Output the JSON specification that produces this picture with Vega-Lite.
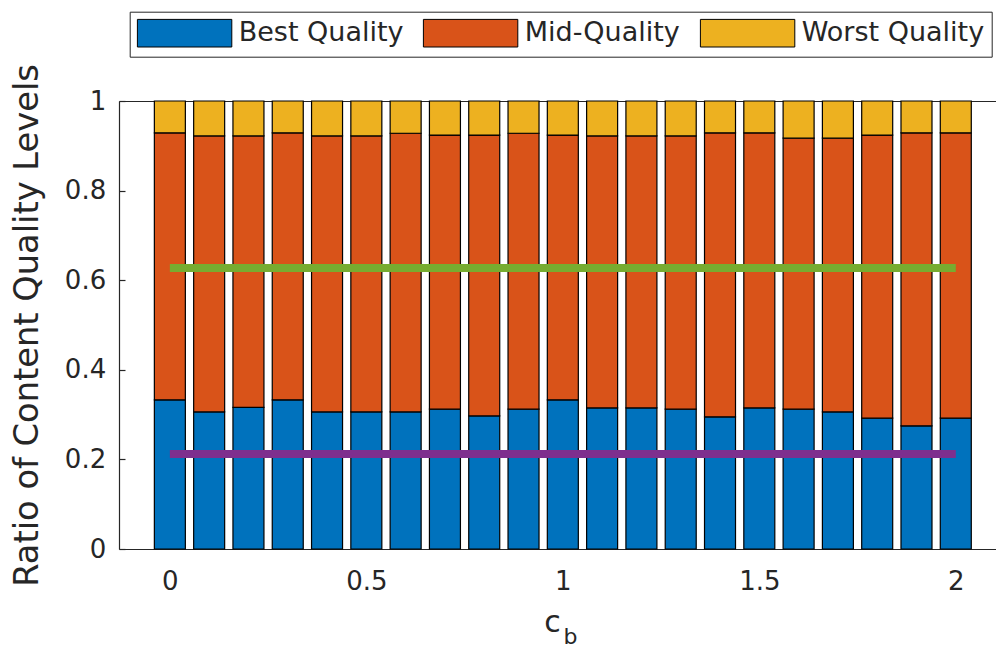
{
  "$schema": "https://vega.github.io/schema/vega-lite/v6.json",
  "width": 877,
  "height": 448,
  "autosize": {"type": "none"},
  "padding": {"left": 119, "top": 101, "right": 0, "bottom": 99},
  "background": "white",
  "config": {
    "view": {"stroke": null},
    "font": "DejaVu Sans",
    "axis": {
      "domainColor": "#262626",
      "tickColor": "#262626",
      "labelColor": "#262626",
      "titleColor": "#262626",
      "grid": false,
      "labelFont": "DejaVu Sans",
      "titleFont": "DejaVu Sans",
      "titleFontWeight": "normal",
      "domainWidth": 1.2,
      "tickWidth": 1.2,
      "zindex": 1
    }
  },
  "datasets": {
    "bars": [
      {"cb": 0.0, "quality": "Best Quality", "ratio": 0.333}, {"cb": 0.0, "quality": "Mid-Quality", "ratio": 0.596}, {"cb": 0.0, "quality": "Worst Quality", "ratio": 0.071},
      {"cb": 0.1, "quality": "Best Quality", "ratio": 0.306}, {"cb": 0.1, "quality": "Mid-Quality", "ratio": 0.616}, {"cb": 0.1, "quality": "Worst Quality", "ratio": 0.078},
      {"cb": 0.2, "quality": "Best Quality", "ratio": 0.316}, {"cb": 0.2, "quality": "Mid-Quality", "ratio": 0.606}, {"cb": 0.2, "quality": "Worst Quality", "ratio": 0.078},
      {"cb": 0.3, "quality": "Best Quality", "ratio": 0.333}, {"cb": 0.3, "quality": "Mid-Quality", "ratio": 0.596}, {"cb": 0.3, "quality": "Worst Quality", "ratio": 0.071},
      {"cb": 0.4, "quality": "Best Quality", "ratio": 0.306}, {"cb": 0.4, "quality": "Mid-Quality", "ratio": 0.616}, {"cb": 0.4, "quality": "Worst Quality", "ratio": 0.078},
      {"cb": 0.5, "quality": "Best Quality", "ratio": 0.306}, {"cb": 0.5, "quality": "Mid-Quality", "ratio": 0.616}, {"cb": 0.5, "quality": "Worst Quality", "ratio": 0.078},
      {"cb": 0.6, "quality": "Best Quality", "ratio": 0.306}, {"cb": 0.6, "quality": "Mid-Quality", "ratio": 0.622}, {"cb": 0.6, "quality": "Worst Quality", "ratio": 0.072},
      {"cb": 0.7, "quality": "Best Quality", "ratio": 0.312}, {"cb": 0.7, "quality": "Mid-Quality", "ratio": 0.612}, {"cb": 0.7, "quality": "Worst Quality", "ratio": 0.076},
      {"cb": 0.8, "quality": "Best Quality", "ratio": 0.297}, {"cb": 0.8, "quality": "Mid-Quality", "ratio": 0.627}, {"cb": 0.8, "quality": "Worst Quality", "ratio": 0.076},
      {"cb": 0.9, "quality": "Best Quality", "ratio": 0.312}, {"cb": 0.9, "quality": "Mid-Quality", "ratio": 0.616}, {"cb": 0.9, "quality": "Worst Quality", "ratio": 0.072},
      {"cb": 1.0, "quality": "Best Quality", "ratio": 0.333}, {"cb": 1.0, "quality": "Mid-Quality", "ratio": 0.591}, {"cb": 1.0, "quality": "Worst Quality", "ratio": 0.076},
      {"cb": 1.1, "quality": "Best Quality", "ratio": 0.315}, {"cb": 1.1, "quality": "Mid-Quality", "ratio": 0.607}, {"cb": 1.1, "quality": "Worst Quality", "ratio": 0.078},
      {"cb": 1.2, "quality": "Best Quality", "ratio": 0.315}, {"cb": 1.2, "quality": "Mid-Quality", "ratio": 0.607}, {"cb": 1.2, "quality": "Worst Quality", "ratio": 0.078},
      {"cb": 1.3, "quality": "Best Quality", "ratio": 0.312}, {"cb": 1.3, "quality": "Mid-Quality", "ratio": 0.610}, {"cb": 1.3, "quality": "Worst Quality", "ratio": 0.078},
      {"cb": 1.4, "quality": "Best Quality", "ratio": 0.295}, {"cb": 1.4, "quality": "Mid-Quality", "ratio": 0.634}, {"cb": 1.4, "quality": "Worst Quality", "ratio": 0.071},
      {"cb": 1.5, "quality": "Best Quality", "ratio": 0.315}, {"cb": 1.5, "quality": "Mid-Quality", "ratio": 0.614}, {"cb": 1.5, "quality": "Worst Quality", "ratio": 0.071},
      {"cb": 1.6, "quality": "Best Quality", "ratio": 0.312}, {"cb": 1.6, "quality": "Mid-Quality", "ratio": 0.605}, {"cb": 1.6, "quality": "Worst Quality", "ratio": 0.083},
      {"cb": 1.7, "quality": "Best Quality", "ratio": 0.306}, {"cb": 1.7, "quality": "Mid-Quality", "ratio": 0.611}, {"cb": 1.7, "quality": "Worst Quality", "ratio": 0.083},
      {"cb": 1.8, "quality": "Best Quality", "ratio": 0.292}, {"cb": 1.8, "quality": "Mid-Quality", "ratio": 0.632}, {"cb": 1.8, "quality": "Worst Quality", "ratio": 0.076},
      {"cb": 1.9, "quality": "Best Quality", "ratio": 0.275}, {"cb": 1.9, "quality": "Mid-Quality", "ratio": 0.654}, {"cb": 1.9, "quality": "Worst Quality", "ratio": 0.071},
      {"cb": 2.0, "quality": "Best Quality", "ratio": 0.292}, {"cb": 2.0, "quality": "Mid-Quality", "ratio": 0.637}, {"cb": 2.0, "quality": "Worst Quality", "ratio": 0.071}
    ],
    "lines": [
      {"cb": 0, "series": "upper", "ratio": 0.627},
      {"cb": 2, "series": "upper", "ratio": 0.627},
      {"cb": 0, "series": "lower", "ratio": 0.212},
      {"cb": 2, "series": "lower", "ratio": 0.212}
    ]
  },
  "layer": [
    {
      "data": {"name": "bars"},
      "mark": {"type": "bar", "size": 31, "stroke": "#000000", "strokeWidth": 1.2},
      "encoding": {
        "x": {
          "field": "cb", "type": "quantitative",
          "scale": {"domain": [-0.1167, 2.0896], "nice": false, "zero": false},
          "axis": {
            "orient": "bottom", "values": [0, 0.5, 1, 1.5, 2], "format": "~g",
            "tickSize": -6, "labelPadding": 25.5, "labelFontSize": 26, "labelBaseline": "top",
            "title": "c", "titleFontSize": 30, "titleX": 433, "titleY": 82, "titleBaseline": "alphabetic", "titleAlign": "center"
          }
        },
        "y": {
          "field": "ratio", "type": "quantitative", "stack": "zero",
          "scale": {"domain": [0, 1], "nice": false},
          "axis": {
            "values": [0, 0.2, 0.4, 0.6, 0.8, 1], "format": "~g",
            "tickSize": -6, "labelPadding": 19.3, "labelFontSize": 26,
            "title": "Ratio of Content Quality Levels", "titleFontSize": 33.7,
            "titleX": -82, "titleBaseline": "alphabetic"
          }
        },
        "color": {
          "field": "quality", "type": "nominal",
          "scale": {"domain": ["Best Quality", "Mid-Quality", "Worst Quality"], "range": ["#0072BD", "#D95319", "#EDB120"]},
          "legend": {
            "title": null, "orient": "none", "legendX": 10.7, "legendY": -89.3, "direction": "horizontal",
            "gridAlign": "none",
            "symbolType": "M-1,-1H5.84V1H-1Z", "symbolSize": 762,
            "symbolStrokeColor": "#000000", "symbolStrokeWidth": 1, "symbolOpacity": 1,
            "labelFontSize": 27, "labelFont": "DejaVu Sans", "labelColor": "#262626", "labelLimit": 400,
            "labelOffset": 73, "columnPadding": 17, "padding": 7,
            "strokeColor": "#262626", "fillColor": "#ffffff"
          }
        },
        "order": {"field": "quality", "type": "nominal", "sort": "ascending"}
      }
    },
    {
      "data": {"name": "lines"},
      "mark": {"type": "line", "strokeWidth": 8, "strokeCap": "butt"},
      "encoding": {
        "x": {
          "field": "cb", "type": "quantitative",
          "axis": {
            "orient": "top", "values": [0, 0.5, 1, 1.5, 2], "labels": false, "tickSize": -6,
            "title": "b", "titleFontSize": 22, "titleX": 451, "titleY": 542, "titleBaseline": "alphabetic", "titleAlign": "center"
          }
        },
        "y": {"field": "ratio", "type": "quantitative", "title": "Ratio of Content Quality Levels"},
        "stroke": {
          "field": "series", "type": "nominal",
          "scale": {"domain": ["upper", "lower"], "range": ["#77AC30", "#7E2F8E"]},
          "legend": null
        }
      }
    }
  ],
  "resolve": {"axis": {"x": "independent"}}
}
